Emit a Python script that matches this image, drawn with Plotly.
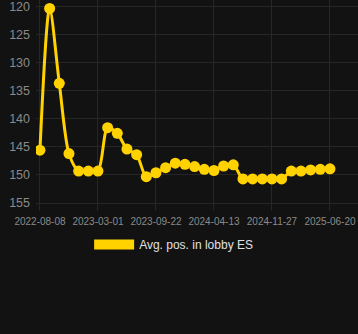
import plotly.graph_objects as go

dates = [
    "2022-08-08", "2022-09-11", "2022-10-15", "2022-11-18", "2022-12-22", "2023-01-25",
    "2023-03-01", "2023-04-04", "2023-05-08", "2023-06-11", "2023-07-15", "2023-08-18",
    "2023-09-22", "2023-10-26", "2023-11-29", "2024-01-02", "2024-02-05", "2024-03-10",
    "2024-04-13", "2024-05-21", "2024-06-28", "2024-08-05", "2024-09-12", "2024-10-20",
    "2024-11-27", "2024-12-31", "2025-02-03", "2025-03-09", "2025-04-12", "2025-05-16",
    "2025-06-20",
]
avg_pos = [
    145.6, 120.4, 133.7, 146.2, 149.3, 149.3, 149.3, 141.6, 142.6, 145.4, 146.4,
    150.3, 149.6, 148.7, 147.9, 148.1, 148.5, 149.0, 149.2, 148.4, 148.2, 150.7,
    150.7, 150.7, 150.7, 150.7, 149.3, 149.3, 149.1, 149.0, 148.9,
]
tick_dates = dates[::6]
y_ticks = [120, 125, 130, 135, 140, 145, 150, 155]
series_name = "Avg. pos. in lobby ES"

GOLD = "#FFD200"
BG = "#121212"
GRID = "#262626"
TICK = "#8a8a8a"

fig = go.Figure()
fig.add_trace(go.Scatter(
    x=dates, y=avg_pos, mode="lines+markers",
    line=dict(color=GOLD, width=3, shape="spline", smoothing=0.8),
    marker=dict(color=GOLD, size=11),
    showlegend=False, hoverinfo="x+y",
))
fig.add_trace(go.Scatter(
    x=[None], y=[None], mode="lines", name=series_name,
    line=dict(color=GOLD, width=12), showlegend=True,
))

fig.update_layout(
    width=358, height=334,
    paper_bgcolor=BG, plot_bgcolor=BG,
    margin=dict(l=36, r=0, t=0, b=123),
    font=dict(family="Liberation Sans, Arial, sans-serif", size=11, color=TICK),
    xaxis=dict(
        type="category", tickmode="array", tickvals=tick_dates, ticktext=tick_dates,
        range=[-0.41, 32.9], showgrid=True, gridcolor=GRID, gridwidth=1,
        zeroline=False, showline=False, ticks="", tickangle=0, automargin=False,
        ticklabelstandoff=3, ticklabeloverflow="allow",
        tickfont=dict(size=10, color=TICK),
    ),
    yaxis=dict(
        range=[156.4, 118.9], tickvals=y_ticks, showgrid=True, gridcolor=GRID,
        zeroline=False, showline=False, ticks="", ticklabelstandoff=5, automargin=False,
        ticklabeloverflow="allow",
        tickfont=dict(size=12.5, color=TICK),
    ),
    legend=dict(
        orientation="h", xref="container", x=0.485, xanchor="center",
        yref="container", y=0.268, yanchor="middle",
        font=dict(size=12, color="#e0e0e0"), itemwidth=40,
    ),
)

fig.write_html("out.html")
